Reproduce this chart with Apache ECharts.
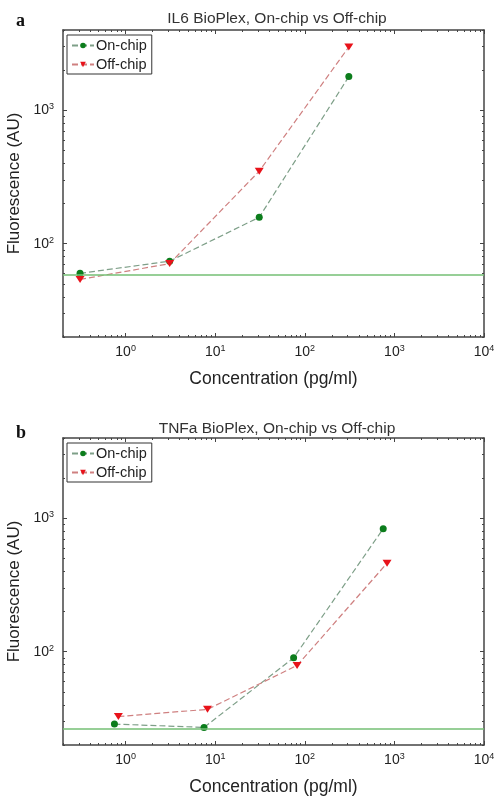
<!DOCTYPE html>
<html>
<head>
<meta charset="utf-8">
<script src="https://cdn.jsdelivr.net/npm/echarts@6/dist/echarts.min.js"></script>
<style>
html,body{margin:0;padding:0;background:#fff;}
#c{width:502px;height:806px;}
</style>
</head>
<body>
<div id="c"></div>
<script>
// ---- Data ----
const titles = ['IL6 BioPlex, On-chip vs Off-chip', 'TNFa BioPlex, On-chip vs Off-chip'];
const panelLetters = ['a', 'b'];
const seriesNames = ['On-chip', 'Off-chip'];

const il6OnX = [0.31, 3.1, 31, 310];
const il6OnY = [60, 74, 158, 1790];
const il6OffX = [0.31, 3.1, 31, 310];
const il6OffY = [54, 71, 350, 2985];
const il6Baseline = 58.5;

const tnfOnX = [0.75, 7.5, 75, 750];
const tnfOnY = [28.7, 27.1, 90, 836];
const tnfOffX = [0.83, 8.2, 82, 828];
const tnfOffY = [32.7, 37, 79, 461];
const tnfBaseline = 26.3;

const xMajorTicks = [1, 10, 100, 1000, 10000];
const yMajorTicks = [100, 1000];
const xRange = [0.2, 10000];
const yRange = [20, 4000];

// ---- helpers ----
function zip(a, b) { return a.map((v, i) => [v, b[i]]); }
function minorTicks(min, max) {
  const out = [];
  for (let e = -2; e <= 5; e++) {
    for (let m = 2; m <= 9; m++) {
      const v = m * Math.pow(10, e);
      if (v >= min * 0.999 && v <= max * 1.001) out.push(v);
    }
  }
  return out;
}
const AX = '#444';
const FONT = 'Liberation Sans';
const supFmt = v => '10{s|' + Math.round(Math.log10(v)) + '}';
const labelRich = { s: { fontSize: 9, color: '#222', fontFamily: FONT, verticalAlign: 'top', lineHeight: 10 } };

const grids = [
  { left: 63, top: 30, width: 421, height: 307, outerBoundsMode: 'none', containLabel: false },
  { left: 63, top: 438, width: 421, height: 307, outerBoundsMode: 'none', containLabel: false }
];

const xAxes = [], yAxes = [];
function addAxes(gi) {
  const common = { type: 'log', logBase: 10, gridIndex: gi, splitLine: { show: false } };
  const xMinor = minorTicks(xRange[0], xRange[1]);
  const yMinor = minorTicks(yRange[0], yRange[1]);
  xAxes.push(Object.assign({}, common, {
    min: xRange[0], max: xRange[1], position: 'bottom',
    axisLine: { show: true, lineStyle: { color: AX, width: 1.5 } },
    axisTick: { show: true, inside: true, length: 4, customValues: xMajorTicks, lineStyle: { color: AX } },
    axisLabel: { show: true, customValues: xMajorTicks, formatter: supFmt, rich: labelRich, margin: 7,
      fontSize: 14, color: '#222', fontFamily: FONT, lineHeight: 16 },
    name: 'Concentration (pg/ml)', nameLocation: 'middle', nameGap: 33,
    nameTextStyle: { fontSize: 17.5, color: '#222', fontFamily: FONT }
  }));
  xAxes.push(Object.assign({}, common, {
    min: xRange[0], max: xRange[1], position: 'bottom',
    axisLine: { show: false },
    axisTick: { show: true, inside: true, length: 2, customValues: xMinor, lineStyle: { color: AX } },
    axisLabel: { show: false }
  }));
  xAxes.push(Object.assign({}, common, {
    min: xRange[0], max: xRange[1], position: 'top',
    axisLine: { show: true, lineStyle: { color: AX, width: 1.5 } },
    axisTick: { show: true, inside: true, length: 4, customValues: xMajorTicks, lineStyle: { color: AX } },
    axisLabel: { show: false }
  }));
  xAxes.push(Object.assign({}, common, {
    min: xRange[0], max: xRange[1], position: 'top',
    axisLine: { show: false },
    axisTick: { show: true, inside: true, length: 2, customValues: xMinor, lineStyle: { color: AX } },
    axisLabel: { show: false }
  }));
  yAxes.push(Object.assign({}, common, {
    min: yRange[0], max: yRange[1], position: 'left',
    axisLine: { show: true, lineStyle: { color: AX, width: 1.5 } },
    axisTick: { show: true, inside: true, length: 4, customValues: yMajorTicks, lineStyle: { color: AX } },
    axisLabel: { show: true, customValues: yMajorTicks, formatter: supFmt, rich: labelRich, margin: 9,
      fontSize: 14, color: '#222', fontFamily: FONT, lineHeight: 16 },
    name: 'Fluorescence (AU)', nameLocation: 'middle', nameGap: 34,
    nameTextStyle: { fontSize: 17, color: '#222', fontFamily: FONT }
  }));
  yAxes.push(Object.assign({}, common, {
    min: yRange[0], max: yRange[1], position: 'left',
    axisLine: { show: false },
    axisTick: { show: true, inside: true, length: 2, customValues: yMinor, lineStyle: { color: AX } },
    axisLabel: { show: false }
  }));
  yAxes.push(Object.assign({}, common, {
    min: yRange[0], max: yRange[1], position: 'right',
    axisLine: { show: true, lineStyle: { color: AX, width: 1.5 } },
    axisTick: { show: true, inside: true, length: 4, customValues: yMajorTicks, lineStyle: { color: AX } },
    axisLabel: { show: false }
  }));
  yAxes.push(Object.assign({}, common, {
    min: yRange[0], max: yRange[1], position: 'right',
    axisLine: { show: false },
    axisTick: { show: true, inside: true, length: 2, customValues: yMinor, lineStyle: { color: AX } },
    axisLabel: { show: false }
  }));
}
addAxes(0);
addAxes(1);

const GREEN = '#0c7d1c', RED = '#e8121a';
const GLINE = '#7e9f88', RLINE = '#cf8080';
function mkSeries(name, gi, x, y, isOn, baseline) {
  const s = {
    type: 'line', name: name, xAxisIndex: gi * 4, yAxisIndex: gi * 4,
    data: zip(x, y),
    symbol: isOn ? 'circle' : 'triangle', symbolSize: isOn ? 7 : [9, 7], symbolRotate: isOn ? 0 : 180,
    itemStyle: { color: isOn ? GREEN : RED },
    lineStyle: { color: isOn ? GLINE : RLINE, width: 1.2, type: [6, 3] },
    z: isOn ? 3 : 4,
    animation: false
  };
  if (baseline != null) {
    s.markLine = {
      silent: true, symbol: 'none', label: { show: false },
      lineStyle: { color: '#74bf74', type: 'solid', width: 1.5 },
      data: [{ yAxis: baseline }]
    };
  }
  return s;
}

const series = [
  mkSeries('On-chip', 0, il6OnX, il6OnY, true, il6Baseline),
  mkSeries('Off-chip', 0, il6OffX, il6OffY, false, null),
  mkSeries('On-chip', 1, tnfOnX, tnfOnY, true, tnfBaseline),
  mkSeries('Off-chip', 1, tnfOffX, tnfOffY, false, null)
];

const legends = grids.map(g => ({
  orient: 'vertical', left: g.left + 4, top: g.top + 5,
  data: seriesNames, backgroundColor: '#fff', borderColor: '#333', borderWidth: 1,
  padding: [3, 5, 2, 4], itemGap: 4, itemWidth: 22, itemHeight: 7,
  textStyle: { fontSize: 14.5, color: '#222', fontFamily: FONT, padding: [0, 0, 0, -3] },
  selectedMode: false
}));

const titleStyle = { fontSize: 15.5, fontWeight: 'normal', color: '#333', fontFamily: FONT };
const letterStyle = { fontSize: 18, fontWeight: 'bold', color: '#111', fontFamily: 'Liberation Serif' };
const titleComps = [
  { text: titles[0], left: 272, top: 6, textAlign: 'center', textStyle: titleStyle },
  { text: titles[1], left: 272, top: 416, textAlign: 'center', textStyle: titleStyle },
  { text: panelLetters[0], left: 11, top: 7, textStyle: letterStyle },
  { text: panelLetters[1], left: 11, top: 419, textStyle: letterStyle }
];

const chart = echarts.init(document.getElementById('c'), null, { renderer: 'canvas' });
chart.setOption({
  animation: false,
  backgroundColor: '#fff',
  title: titleComps,
  legend: legends,
  grid: grids,
  xAxis: xAxes,
  yAxis: yAxes,
  series: series
});
</script>
</body>
</html>
